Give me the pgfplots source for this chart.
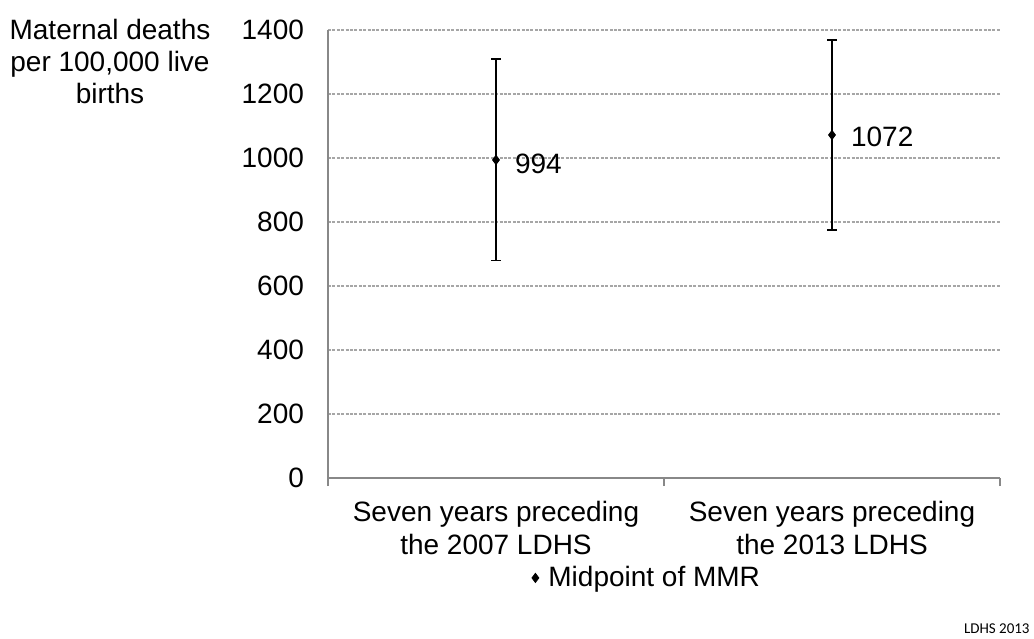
\documentclass[border=0pt]{standalone}
\usepackage{pgfplots}
\pgfplotsset{compat=1.18}
\usepackage{fontspec}
\setmainfont{Liberation Sans}
\newfontfamily\calibri{Carlito}

\definecolor{axisgray}{HTML}{888888}
\definecolor{gridgray}{HTML}{A6A6A6}

\begin{document}
\begin{tikzpicture}
\useasboundingbox (-164pt,-80pt) rectangle (353pt,239pt);
\begin{axis}[
  scale only axis,
  width=336pt, height=224pt,
  at={(0,0)}, anchor=south west,
  xmin=0, xmax=2,
  ymin=0, ymax=1400,
  ytick={0,200,...,1400},
  xtick={0.5,1.5},
  xticklabels={{Seven years preceding\\the 2007 LDHS},{Seven years preceding\\the 2013 LDHS}},
  xticklabel style={align=center, font=\fontsize{14}{16.5}\selectfont, yshift=-8pt},
  extra x ticks={0,1,2},
  extra x tick labels={},
  extra x tick style={major tick length=4pt, tick style={axisgray, line width=0.6pt}},
  major tick length=0pt,
  ytick style={axisgray, line width=0.6pt},
  tick align=outside,
  yticklabel style={font=\fontsize{14}{16}\selectfont, xshift=-8.5pt},
  /pgf/number format/assume math mode=true,
  /pgf/number format/1000 sep={},
  ymajorgrids,
  grid style={gridgray, line width=0.6pt, dash pattern=on 1.5pt off 0.7pt},
  axis line style={axisgray, line width=0.6pt},
  axis x line*=bottom,
  axis y line*=left,
  clip=false,
  legend style={at={(0.475,-0.223)}, anchor=center, draw=none, fill=none,
    font=\fontsize{14}{16}\selectfont, inner sep=0pt,
    legend cell align=left},
  legend image code/.code={\draw[#1] plot coordinates {(0pt,0pt)};
    \path[draw=none, fill=none] (-2.5pt,0pt) rectangle (4.5pt,0.1pt);},
]
\addplot[
  only marks, mark=diamond*, mark size=2.3pt, black,
  error bars/.cd, y dir=both, y explicit,
  error mark=-,
  error bar style={black, line width=0.75pt},
  error mark options={rotate=90, black, line width=0.75pt, mark size=2.3pt},
] coordinates {
  (0.5,994) +- (0,315)
  (1.5,1072) +- (0,297)
};
\addlegendentry{Midpoint of MMR}
\node[anchor=west, font=\fontsize{14}{16}\selectfont] at (axis cs:0.5,994) [xshift=6pt, yshift=-2pt] {994};
\node[anchor=west, font=\fontsize{14}{16}\selectfont] at (axis cs:1.5,1072) [xshift=6pt, yshift=-1pt] {1072};
\end{axis}
\node[anchor=north, align=center, font=\fontsize{14}{16}\selectfont] at (-109pt,233pt)
  {Maternal deaths\\per 100,000 live\\births};
\node[anchor=south east, inner sep=0pt, font=\calibri\fontsize{7.5}{9}\selectfont] at (351pt,-78pt) {LDHS 2013};
\end{tikzpicture}
\end{document}
